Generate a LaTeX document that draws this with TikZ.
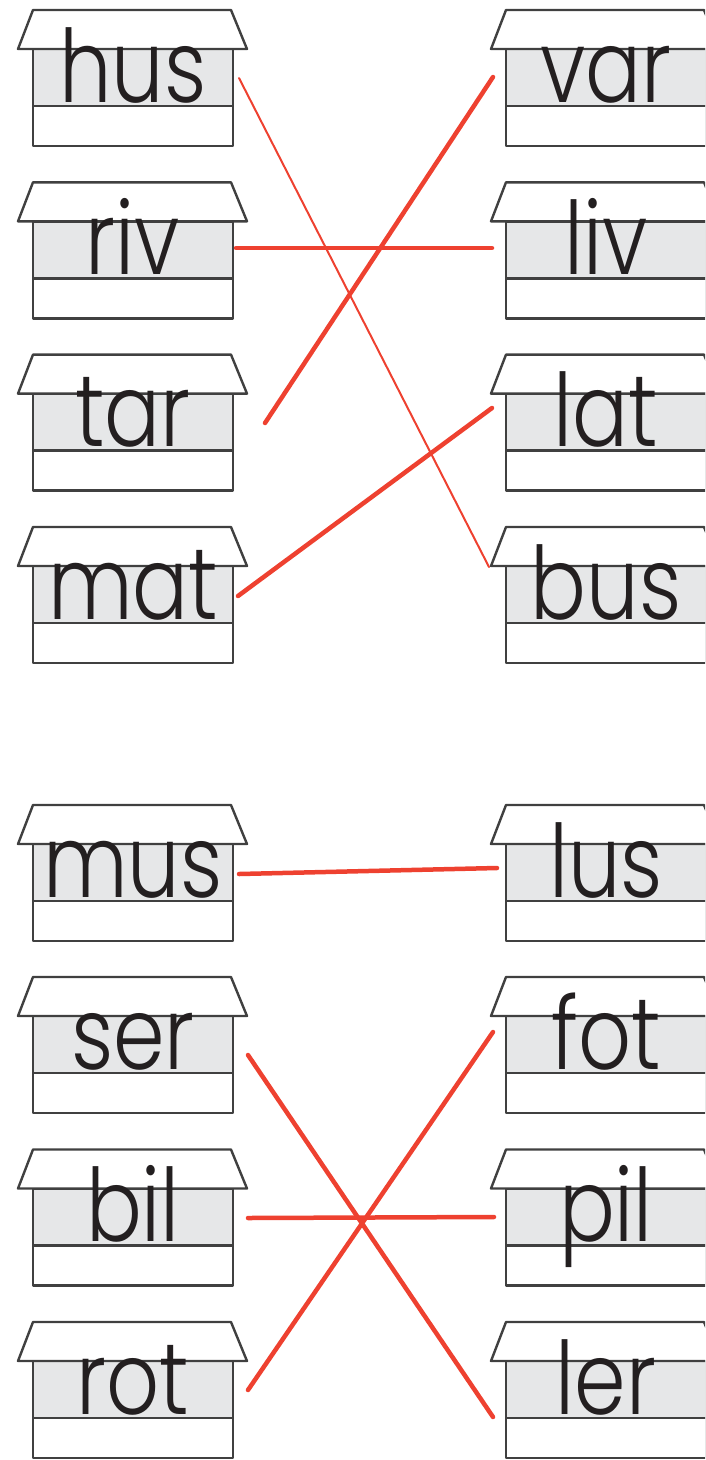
\documentclass[tikz,border=0pt]{standalone}
\usepackage{fontspec}
\setmainfont{Poppins}[UprightFont=* Light]
\definecolor{linered}{HTML}{EE4130}
\definecolor{bandgray}{HTML}{E6E7E8}
\definecolor{edgegray}{HTML}{404040}
\definecolor{ink}{HTML}{231F20}
\tikzset{
  outline/.style={draw=edgegray, line width=2.4pt, line join=round},
  word/.style={anchor=base, inner sep=0pt, text=ink, font=\fontsize{92}{92}\selectfont},
  link/.style={draw=linered, line width=4.5pt, line cap=round},
  thinlink/.style={draw=linered, line width=2pt, line cap=round},
  house/.pic={
    \fill[bandgray] (0,39) rectangle (200,96);
    \draw[outline] (0,39) rectangle (200,136);
    \draw[outline] (0,96) -- (200,96);
    \draw[outline, fill=white] (0,0) -- (198,0) -- (214,39) -- (-15,39) -- cycle;
    \node[word] (-w) at (100,92) {\scalebox{0.9}[1.1]{\tikzpictext}};
  }
}
\begin{document}
\begin{tikzpicture}[x=1pt, y=-1pt]
\useasboundingbox (0,0) rectangle (705,1460);
\begin{scope}
\clip (0,0) rectangle (705,1460);
% left column
\pic[pic text=hus] (hus) at (33,10) {house};
\pic[pic text=riv] (riv) at (33,182.3) {house};
\pic[pic text=tar] (tar) at (33,354.6) {house};
\pic[pic text=mat] (mat) at (33,527) {house};
\pic[pic text=mus] (mus) at (33,805) {house};
\pic[pic text=ser] (ser) at (33,977) {house};
\pic[pic text=bil] (bil) at (33,1149.5) {house};
\pic[pic text=rot] (rot) at (33,1322) {house};
% right column
\pic[pic text=var] (var) at (506,10) {house};
\pic[pic text=liv] (liv) at (506,182.3) {house};
\pic[pic text=lat] (lat) at (506,354.6) {house};
\pic[pic text=bus] (bus) at (506,527) {house};
\pic[pic text=lus] (lus) at (506,805) {house};
\pic[pic text=fot] (fot) at (506,977) {house};
\pic[pic text=pil] (pil) at (506,1149.5) {house};
\pic[pic text=ler] (ler) at (506,1322) {house};
\end{scope}
% connector ends
\coordinate (husE) at (239,78);   \coordinate (busE) at (489,567);
\coordinate (rivE) at (236,248);  \coordinate (livE) at (492,248);
\coordinate (tarE) at (265,423);  \coordinate (varE) at (493,77);
\coordinate (matE) at (238,596);  \coordinate (latE) at (492,408);
\coordinate (musE) at (239,874);  \coordinate (lusE) at (497,868);
\coordinate (serE) at (248,1055); \coordinate (lerE) at (493,1417);
\coordinate (bilE) at (248,1218); \coordinate (pilE) at (494,1217);
\coordinate (rotE) at (248,1390); \coordinate (fotE) at (493,1032);
\draw[thinlink] (husE) -- (busE);
\draw[link] (rivE) -- (livE);
\draw[link] (tarE) -- (varE);
\draw[link] (matE) -- (latE);
\draw[link] (musE) -- (lusE);
\draw[link] (serE) -- (lerE);
\draw[link] (bilE) -- (pilE);
\draw[link] (rotE) -- (fotE);
\end{tikzpicture}
\end{document}
